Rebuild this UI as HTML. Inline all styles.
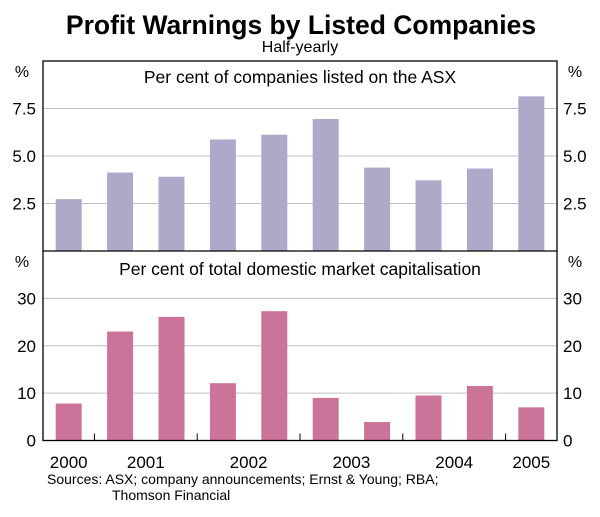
<!DOCTYPE html>
<html><head><meta charset="utf-8"><style>
body{margin:0;background:#fff;}
svg text{font-family:"Liberation Sans",Arial,sans-serif;fill:#000;}
</style></head><body>
<svg id="chart" width="600" height="512" viewBox="0 0 600 512" xmlns="http://www.w3.org/2000/svg">
<text x="301" y="34" text-anchor="middle" font-size="26.5" font-weight="bold">Profit Warnings by Listed Companies</text>
<text x="300" y="52" text-anchor="middle" font-size="16">Half-yearly</text>
<g id="grid"></g>
<g id="bars"></g>
<g id="axes"></g>
<text x="300" y="83" text-anchor="middle" font-size="17.5">Per cent of companies listed on the ASX</text>
<text x="300" y="275" text-anchor="middle" font-size="17.5">Per cent of total domestic market capitalisation</text>
<text x="47" y="484" font-size="14">Sources: ASX; company announcements; Ernst &amp; Young; RBA;</text>
<text x="112" y="500" font-size="14">Thomson Financial</text>
</svg>
<script>
const categories = ["2000-H2","2001-H1","2001-H2","2002-H1","2002-H2","2003-H1","2003-H2","2004-H1","2004-H2","2005-H1"];
const asxShare = [2.73,4.13,3.91,5.87,6.12,6.95,4.39,3.72,4.34,8.14];
const marketCapShare = [7.8,23.0,26.1,12.1,27.3,9.0,3.9,9.5,11.5,7.0];
const topTicks = [2.5,5.0,7.5];
const topTickLabels = ["2.5","5.0","7.5"];
const bottomTicks = [0,10,20,30];
const bottomTickLabels = ["0","10","20","30"];
const yearLabels = ["2000","2001","2002","2003","2004","2005"];
const yearLabelPos = [0.5,2,4,6,8,9.5];
const yearTickPos = [1,3,5,7,9];

const NS="http://www.w3.org/2000/svg";
const L=43,R=557,T=61,MID=251,B=440.5;
const slot=(R-L)/categories.length;
const xAt=i=>L+slot*i;
const yTop=v=>MID-(MID-T)*v/10;
const yBot=v=>B-(B-MID)*v/40;
function mk(tag,attrs,parent,txt){const e=document.createElementNS(NS,tag);for(const k in attrs)e.setAttribute(k,attrs[k]);if(txt!==undefined)e.textContent=txt;parent.appendChild(e);return e;}
const grid=document.getElementById('grid'),bars=document.getElementById('bars'),axes=document.getElementById('axes');

topTicks.forEach((t,i)=>{
  const y=yTop(t);
  const g=mk('line',{x1:L,x2:R,y1:y,y2:y,stroke:'#c0c0c0','stroke-width':1},grid);
  
  
  const a=mk('text',{x:36,y:y+6,'text-anchor':'end','font-size':17},axes,topTickLabels[i]);
  
  
  const b=mk('text',{x:563,y:y+6,'font-size':17},axes,topTickLabels[i]);
  
  
});
bottomTicks.forEach((t,i)=>{
  const y=yBot(t);
  if(t>0){const g=mk('line',{x1:L,x2:R,y1:y,y2:y,stroke:'#c0c0c0','stroke-width':1},grid);
  
  }
  const a=mk('text',{x:36,y:y+6,'text-anchor':'end','font-size':17},axes,bottomTickLabels[i]);
  
  
  const b=mk('text',{x:563,y:y+6,'font-size':17},axes,bottomTickLabels[i]);
  
  
});
categories.forEach((c,i)=>{
  const x=xAt(i)+slot/2-13;
  const r1=mk('rect',{x:x,y:yTop(asxShare[i]),width:26,height:yTop(0)-yTop(asxShare[i]),fill:'#ada9c9'},bars);
  
  
  const r2=mk('rect',{x:x,y:yBot(marketCapShare[i]),width:26,height:yBot(0)-yBot(marketCapShare[i]),fill:'#cc7399'},bars);
  
  
});
const f=mk('rect',{x:L,y:T,width:R-L,height:B-T,fill:'none',stroke:'#000','stroke-width':1.3},axes);


const d=mk('line',{x1:L,x2:R,y1:MID,y2:MID,stroke:'#000','stroke-width':1.3},axes);


yearTickPos.forEach(p=>{
  const t=mk('line',{x1:xAt(p),x2:xAt(p),y1:B,y2:B-7,stroke:'#000','stroke-width':1},axes);
  
  
});
yearLabels.forEach((l,i)=>{
  const t=mk('text',{x:xAt(yearLabelPos[i]),y:468,'text-anchor':'middle','font-size':17},axes,l);
  
  
});
[[22,77],[575,77],[22,267],[575,267]].forEach(p=>{
  const t=mk('text',{x:p[0],y:p[1],'text-anchor':'middle','font-size':16},axes,'%');
  
  
});
</script>
</body></html>
